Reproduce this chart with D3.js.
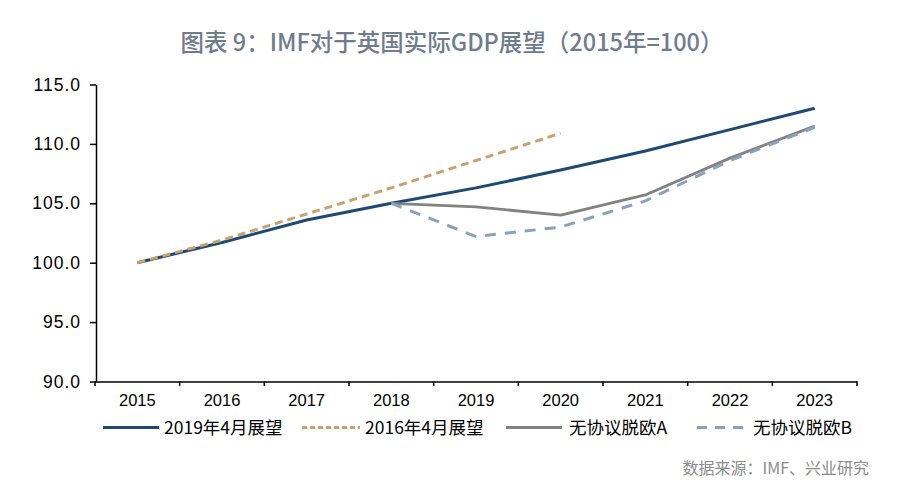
<!DOCTYPE html>
<html><head><meta charset="utf-8">
<script src="https://cdn.jsdelivr.net/npm/d3@7"></script>
<style>
body{margin:0;background:#fff;}
svg{display:block;}
</style></head>
<body>
<script>
const years = ["2015","2016","2017","2018","2019","2020","2021","2022","2023"];
const yTicks = [90,95,100,105,110,115];
const seriesNames = ["2019年4月展望","2016年4月展望","无协议脱欧A","无协议脱欧B"];
const apr2019 = [100,101.7,103.6,105.0,106.3,107.8,109.4,111.2,113.0];
const apr2016 = [100,101.9,104.1,106.3,108.6,110.9,null,null,null];
const noDealA = [null,null,null,105.0,104.7,104.0,105.7,108.8,111.5];
const noDealB = [null,null,null,105.0,102.2,103.0,105.2,108.6,111.4];

const W=900,H=489;
const svg=d3.select("body").append("svg").attr("width",W).attr("height",H);
svg.append("rect").attr("width",W).attr("height",H).attr("fill","#fff");

const x=d3.scaleBand().domain(years).range([95,857]).padding(0);
const y=d3.scaleLinear().domain([90,115]).range([381.5,84.5]);
const cx=d=>x(d)+x.bandwidth()/2;

// title
svg.append("text").attr("x",452).attr("y",51).attr("text-anchor","middle")
  .attr("font-family","'Noto Sans CJK SC','Noto Sans',sans-serif").attr("font-size",23.5)
  .attr("font-weight",500)
  .attr("fill","#6f7c8e").text("图表 9：IMF对于英国实际GDP展望（2015年=100）");

// y axis
const ya=svg.append("g").attr("transform","translate(96,0)")
  .call(d3.axisLeft(y).tickValues(yTicks).tickFormat(d3.format(".1f")).tickSize(6).tickSizeOuter(0).tickPadding(9));
ya.select(".domain").attr("stroke","#000").attr("stroke-width",1.5);
ya.selectAll(".tick line").attr("stroke","#000").attr("stroke-width",1.5);
ya.selectAll(".tick text").attr("font-family","'Liberation Sans',Arial,sans-serif").attr("font-size",17.5)
  .attr("letter-spacing","1px").attr("fill","#000");

// x axis
const xa=svg.append("g").attr("transform","translate(0,381.5)")
  .call(d3.axisBottom(x).tickSize(0).tickPadding(13));
xa.select(".domain").attr("stroke","#000").attr("stroke-width",1.5);
xa.selectAll(".tick text").attr("font-family","'Liberation Sans',Arial,sans-serif").attr("font-size",16.5).attr("fill","#000");
const bounds=years.map(d=>x(d)).concat([x.range()[1]]);
xa.selectAll(".bt").data(bounds).join("line").attr("class","bt")
  .attr("x1",d=>d).attr("x2",d=>d).attr("y1",0).attr("y2",4.5)
  .attr("stroke","#000").attr("stroke-width",1.5);

// lines
const styles=[
  {data:apr2019,color:"#1d4a72",w:3,dash:null},
  {data:apr2016,color:"#c9a26e",w:3,dash:"8,5"},
  {data:noDealA,color:"#828282",w:2.8,dash:null},
  {data:noDealB,color:"#8aa3ba",w:3,dash:"11,9"}
];
const line=d3.line().defined(d=>d.v!=null).x(d=>cx(d.k)).y(d=>y(d.v));
styles.forEach(s=>{
  const pts=years.map((k,i)=>({k,v:s.data[i]}));
  svg.append("path").datum(pts).attr("d",line).attr("fill","none")
    .attr("stroke",s.color).attr("stroke-width",s.w)
    .attr("stroke-dasharray",s.dash).attr("stroke-linejoin","round");
});

// legend
const legX=[[103,159,164],[302,360,365],[506,562,569],[697,745,753]];
const ly=427.5;
const legDash=[null,"5,3",null,"10,8"];
styles.forEach((s,i)=>{
  const [a,b,t]=legX[i];
  svg.append("line").attr("x1",a).attr("x2",b).attr("y1",ly).attr("y2",ly)
    .attr("stroke",s.color).attr("stroke-width",3).attr("stroke-dasharray",legDash[i]);
  svg.append("text").attr("x",t).attr("y",ly).attr("dy","0.36em")
    .attr("font-family","'Noto Sans CJK SC',sans-serif").attr("font-size",17.5)
    .attr("fill","#000").text(seriesNames[i]);
});

// source
svg.append("text").attr("x",869).attr("y",474).attr("text-anchor","end")
  .attr("font-family","'Noto Sans CJK SC',sans-serif").attr("font-size",16)
  .attr("fill","#8c8c8c").text("数据来源：IMF、兴业研究");
</script>
</body></html>
